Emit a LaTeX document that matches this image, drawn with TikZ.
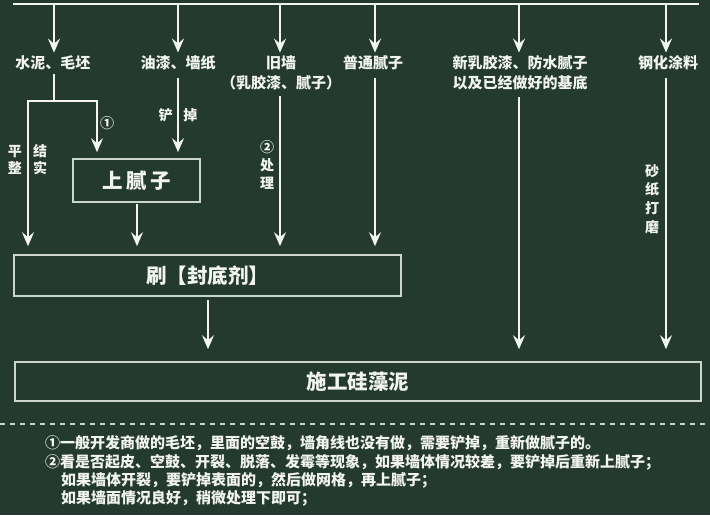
\documentclass[tikz,border=0pt]{standalone}
\usepackage{fontspec}
\setmainfont{Noto Sans CJK SC}
\usetikzlibrary{arrows.meta}
\definecolor{board}{HTML}{243A2F}
\definecolor{chalk}{HTML}{F2F4F0}
\definecolor{boxline}{HTML}{C9D6C9}
\begin{document}
\begin{tikzpicture}[x=1pt,y=-1pt,
  line/.style={draw=chalk,line width=2.4pt},
  arr/.style={line,-{Stealth[length=14pt,width=12pt,inset=5pt]}},
  lbl/.style={text=chalk,font=\fontsize{15}{20}\selectfont\bfseries,inner sep=0pt,align=center},
  side/.style={text=chalk,font=\fontsize{14}{17}\selectfont\bfseries,inner sep=0pt,align=center},
  boxnode/.style={draw=boxline,line width=1.6pt,text=chalk,font=\fontsize{20.5}{24}\selectfont\bfseries,inner sep=0pt},
  note/.style={text=chalk,font=\fontsize{15}{18}\selectfont\bfseries,inner sep=0pt,anchor=west}]
\useasboundingbox (0,0) rectangle (710,515);
\fill[board] (0,0) rectangle (710,515);

% top line
\coordinate (tl) at (13,4);
\coordinate (tr) at (699,4);
\draw[line] (tl) -- (tr);

% labels
\node[lbl] (l1) at (53,63) {水泥、毛坯};
\node[lbl] (l2) at (178,63) {油漆、墙纸};
\node[lbl] (l3) at (281,73) {旧墙\\（乳胶漆、腻子）};
\node[lbl] (l4) at (373,63) {普通腻子};
\node[lbl] (l5) at (520,73) {新乳胶漆、防水腻子\\以及已经做好的基底};
\node[lbl] (l6) at (668,63) {钢化涂料};

\coordinate (t1) at (54,4);
\coordinate (t2) at (178,4);
\coordinate (t3) at (280,4);
\coordinate (t4) at (375,4);
\coordinate (t5) at (519,4);
\coordinate (t6) at (666,4);
\draw[arr,shorten >=3pt] (t1) -- (t1 |- l1.north);
\draw[arr,shorten >=3pt] (t2) -- (t2 |- l2.north);
\draw[arr,shorten >=3pt] (t3) -- (t3 |- l3.north);
\draw[arr,shorten >=3pt] (t4) -- (t4 |- l4.north);
\draw[arr,shorten >=3pt] (t5) -- (t5 |- l5.north);
\draw[arr,shorten >=3pt] (t6) -- (t6 |- l6.north);

% boxes
\node[boxnode,minimum width=127pt,minimum height=43pt] (b0) at (136.5,180.5) {上\,腻\,子};
\node[boxnode,minimum width=387pt,minimum height=41pt] (b1) at (207.5,275.5) {刷【封底剂】};
\node[boxnode,minimum width=686pt,minimum height=39pt] (b2) at (358,381.5) {施工硅藻泥};

% branch from 水泥、毛坯
\coordinate (j1) at (54,101);
\coordinate (jl) at (28,101);
\coordinate (jr) at (97,101);
\draw[line,shorten <=4pt] (t1 |- l1.south) -- (j1);
\draw[arr,shorten >=8pt] (jr) -- (jl) -- (jl |- b1.north);
\draw[arr,shorten >=6pt] (jl) -- (jr) -- (jr |- b0.north);
\node[side] (c1) at (107,123) {①};
\node[side] (s1) at (15,160) {平\\整};
\node[side] (s2) at (40,160) {结\\实};

% 油漆、墙纸
\draw[arr,shorten <=8pt,shorten >=6pt] (t2 |- l2.south) -- (t2 |- b0.north);
\node[side] (s3) at (178,115) {铲\hspace{11pt}掉};

% 上腻子 -> 刷
\coordinate (u0) at (137,204);
\draw[arr,shorten >=8pt] (u0) -- (u0 |- b1.north);

% 旧墙
\draw[arr,shorten <=6pt,shorten >=8pt] (t3 |- l3.south) -- (t3 |- b1.north);
\node[side,font=\fontsize{14}{18}\selectfont\bfseries] (s4) at (267,165) {②\\处\\理};

% 普通腻子
\draw[arr,shorten <=8pt,shorten >=8pt] (t4 |- l4.south) -- (t4 |- b1.north);

% 刷 -> 施工
\coordinate (u1) at (208,300);
\draw[arr,shorten >=12pt] (u1) -- (u1 |- b2.north);

% 新乳胶漆
\draw[arr,shorten <=7pt,shorten >=12pt] (t5 |- l5.south) -- (t5 |- b2.north);

% 钢化涂料
\draw[arr,shorten <=8pt,shorten >=12pt] (t6 |- l6.south) -- (t6 |- b2.north);
\node[side,font=\fontsize{14}{18.7}\selectfont\bfseries] (s5) at (652,199) {砂\\纸\\打\\磨};

% dashed separator
\coordinate (d1) at (0,424);
\coordinate (d2) at (710,424);
\draw[draw=boxline,line width=1.2pt,dash pattern=on 5pt off 5pt] (d1) -- (d2);

% notes
\node[note] (n1) at (45,443) {①一般开发商做的毛坯，里面的空鼓，墙角线也没有做，需要铲掉，重新做腻子的。};
\node[note] (n2) at (45,462) {②看是否起皮、空鼓、开裂、脱落、发霉等现象，如果墙体情况较差，要铲掉后重新上腻子；};
\node[note] (n3) at (61,480) {如果墙体开裂，要铲掉表面的，然后做网格，再上腻子；};
\node[note] (n4) at (61,498) {如果墙面情况良好，稍微处理下即可；};
\end{tikzpicture}
\end{document}
